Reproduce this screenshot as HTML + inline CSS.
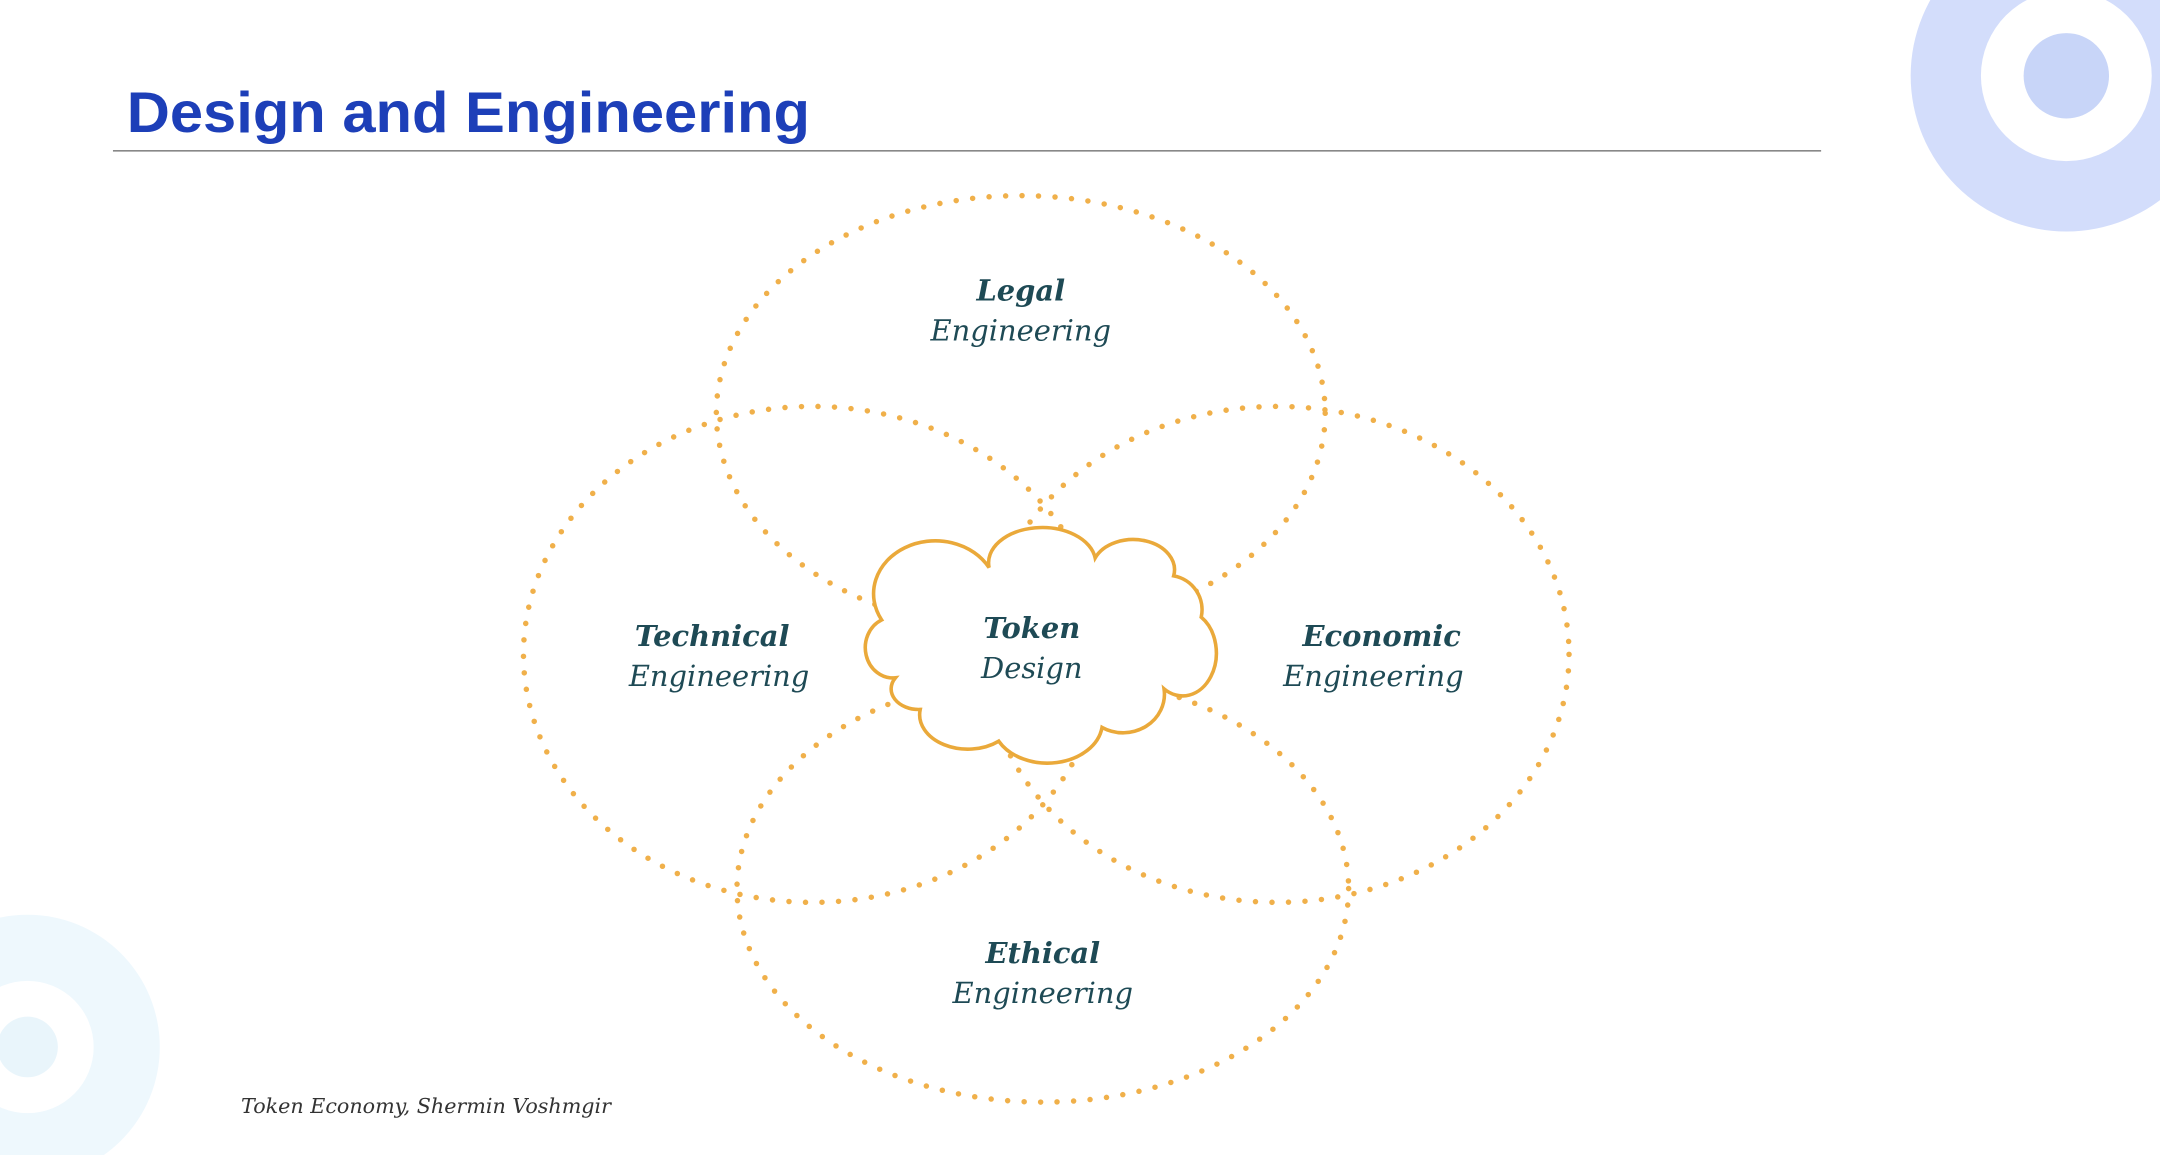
<!DOCTYPE html>
<html><head><meta charset="utf-8"><style>
html,body{margin:0;padding:0;background:#fff;width:2160px;height:1155px;overflow:hidden}
svg{display:block}
</style></head><body>
<svg width="2160" height="1155" viewBox="0 0 1568 838.4" preserveAspectRatio="none" xmlns="http://www.w3.org/2000/svg">
<rect width="1568" height="838.4" fill="#fff"/>
<circle cx="1500" cy="55" r="113" fill="#d3ddfb"/>
<circle cx="1500" cy="55" r="62" fill="#fff"/>
<circle cx="1500" cy="55" r="31" fill="#c8d5f8"/>
<circle cx="20" cy="760" r="96" fill="#eef8fd"/>
<circle cx="20" cy="760" r="48" fill="#fff"/>
<circle cx="20" cy="760" r="22" fill="#e9f5fb"/>
<text x="92" y="96" font-family="Liberation Sans, sans-serif" font-weight="bold" font-size="42" fill="#1d3fb8" textLength="496" lengthAdjust="spacingAndGlyphs">Design and Engineering</text>
<line x1="82" y1="109.5" x2="1322" y2="109.5" stroke="#888" stroke-width="1.2"/>
<g fill="none" stroke="#f0b04a" stroke-width="4" stroke-linecap="round" stroke-dasharray="0 12">
<ellipse cx="741" cy="300" rx="221" ry="158"/>
<ellipse cx="590" cy="475" rx="210" ry="180"/>
<ellipse cx="927" cy="475" rx="212" ry="180"/>
<ellipse cx="757" cy="645" rx="222" ry="155"/>
</g>
<path d="M 650 492 A 20 22 0 0 1 640 450 A 35 30 0 0 1 718 412 A 38 25 0 0 1 795 405 A 30 22 0 0 1 852 418 A 25 25 0 0 1 872 448 A 22 28 0 0 1 845 500 A 30 28 0 0 1 800 528 A 40 30 0 0 1 725 538 A 35 25 0 0 1 668 515 A 20 15 0 0 1 650 492 Z" fill="#fff" stroke="#eaa93a" stroke-width="2.6"/>
<g font-family="DejaVu Serif, serif" font-style="italic" fill="#1e4a55" text-anchor="middle" font-size="21">
<text x="741" y="218" font-weight="bold">Legal</text>
<text x="741" y="247">Engineering</text>
<text x="517" y="469" font-weight="bold">Technical</text>
<text x="522" y="498">Engineering</text>
<text x="1003" y="469" font-weight="bold">Economic</text>
<text x="997" y="498">Engineering</text>
<text x="757" y="699" font-weight="bold">Ethical</text>
<text x="757" y="728">Engineering</text>
<text x="749" y="463" font-weight="bold">Token</text>
<text x="749" y="492">Design</text>
</g>
<text x="175" y="808" font-family="DejaVu Serif, serif" font-style="italic" font-size="15" fill="#333">Token Economy, Shermin Voshmgir</text>
</svg>
</body></html>
